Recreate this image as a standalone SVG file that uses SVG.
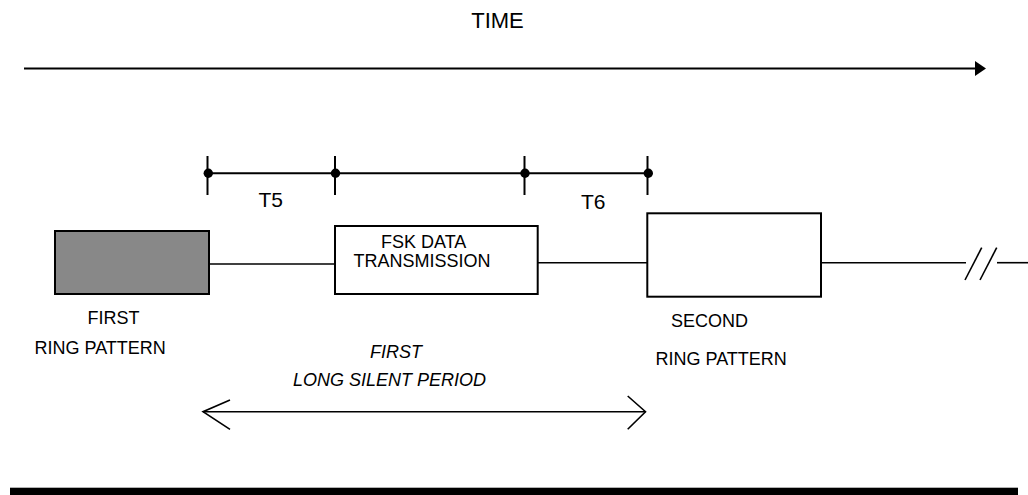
<svg xmlns="http://www.w3.org/2000/svg" width="1028" height="495" viewBox="0 0 1028 495">
<style>
text{font-family:"Liberation Sans",Arial,sans-serif;fill:#000}
.lbl{font-size:18px}
.big{font-size:21px}
.it{font-size:18px;font-style:italic}
.box{fill:#fff;stroke:#000;stroke-width:2}
.ln{stroke:#000;stroke-width:2;fill:none}
.thin{stroke:#000;stroke-width:1.6;fill:none}
</style>
<rect width="1028" height="495" fill="#fff"/>
<g id="time-axis">
<text x="497.5" y="28" text-anchor="middle" style="font-size:22px">TIME</text>
<line class="ln" x1="24" y1="68.5" x2="977" y2="68.5"/>
<polygon points="975,61 986,68.5 975,76" fill="#000"/>
</g>
<g id="connectors">
<line class="thin" x1="209" y1="264" x2="335" y2="264"/>
<line class="thin" x1="538" y1="262.7" x2="653" y2="262.7"/>
<line class="thin" x1="821" y1="262.7" x2="966" y2="262.7"/>
<line class="thin" x1="997" y1="262.7" x2="1028" y2="262.7"/>
<line class="thin" x1="965" y1="280" x2="981.7" y2="247.7"/>
<line class="thin" x1="980" y1="280" x2="996.7" y2="247.7"/>
</g>
<g id="timeline">
<line class="ln" x1="208" y1="173.3" x2="648.3" y2="173.3"/>
<g class="ln">
<line x1="207.5" y1="156" x2="207.5" y2="195"/>
<line x1="335" y1="156" x2="335" y2="195"/>
<line x1="524.5" y1="156" x2="524.5" y2="195"/>
<line x1="647.5" y1="156" x2="647.5" y2="195"/>
</g>
<circle cx="208.3" cy="173.3" r="4.7"/>
<circle cx="335.5" cy="173.3" r="4.7"/>
<circle cx="525" cy="173.3" r="4.7"/>
<circle cx="648.3" cy="173.3" r="4.7"/>
<text class="big" x="258.5" y="207">T5</text>
<text class="big" x="581" y="209.3">T6</text>
</g>
<g id="first-ring">
<rect x="55" y="231" width="154" height="63" fill="#888" stroke="#000" stroke-width="2"/>
<text class="lbl" x="87.5" y="324">FIRST</text>
<text class="lbl" x="34.5" y="354">RING PATTERN</text>
</g>
<g id="fsk">
<rect class="box" x="335" y="226" width="202.7" height="68"/>
<text class="lbl" x="381" y="248">FSK DATA</text>
<text class="lbl" x="353.5" y="267">TRANSMISSION</text>
</g>
<g id="second-ring">
<rect class="box" x="647.3" y="213.3" width="173.7" height="83.4"/>
<text class="lbl" x="671" y="327.3">SECOND</text>
<text class="lbl" x="655.5" y="365">RING PATTERN</text>
</g>
<g id="silent-period">
<text class="it" x="370" y="358.3">FIRST</text>
<text class="it" x="293" y="385.7">LONG SILENT PERIOD</text>
<line class="thin" x1="203" y1="411.7" x2="645.5" y2="411.7"/>
<polyline class="thin" points="230,400 203,411.7 230,429.3"/>
<polyline class="thin" points="627.7,396 645.5,411.7 627.7,429.3"/>
</g>
<rect id="bar" x="10" y="487.7" width="1008" height="7.3" fill="#000"/>
</svg>
